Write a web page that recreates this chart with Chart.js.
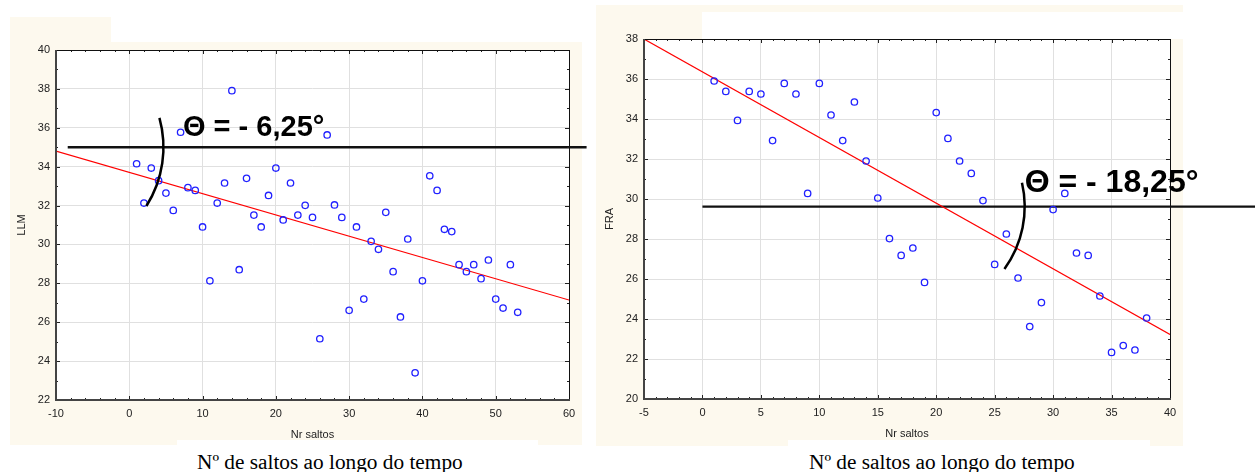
<!DOCTYPE html>
<html>
<head>
<meta charset="utf-8">
<script src="https://cdn.jsdelivr.net/npm/chart.js@4.4.1/dist/chart.umd.min.js"></script>
<style>
  body { margin: 0; background: #fff; }
  #page { position: relative; width: 1255px; height: 472px; overflow: hidden; background: #fff; }
  .cream { position: absolute; background: #fdf9ee; }
  .blank { position: absolute; background: #fff; }
  .caption { position: absolute; top: 451px; font-family: "Liberation Serif", "Times New Roman", serif;
             font-size: 21.3px; line-height: 22px; color: #000; white-space: nowrap; }
  canvas { position: absolute; top: 0; }
</style>
</head>
<body>
<div id="page">
  <!-- fundos creme das duas figuras -->
  <div class="cream" style="left:10px;top:17px;width:101px;height:30px"></div>
  <div class="cream" style="left:10px;top:42px;width:572px;height:403px"></div>
  <div class="cream" style="left:596px;top:5px;width:587px;height:441px"></div>
  <div class="blank" style="left:702px;top:12px;width:481px;height:27px"></div>
  <div class="blank" style="left:177px;top:440px;width:361px;height:32px"></div>
  <div class="blank" style="left:788px;top:440px;width:362px;height:32px"></div>
  <div class="caption" style="left:197px">Nº de saltos ao longo do tempo</div>
  <div class="caption" style="left:809px">Nº de saltos ao longo do tempo</div>
  <canvas id="llm-chart" width="600" height="472" style="left:0"></canvas>
  <canvas id="fra-chart" width="659" height="472" style="left:596px"></canvas>
</div>
<script>
// ---- dados: LLM ----
const llmSaltos = [1, 2, 3, 4, 5, 6, 7, 8, 9, 10, 11, 12, 13, 14, 15, 16, 17, 18, 19, 20,
  21, 22, 23, 24, 25, 26, 27, 28, 29, 30, 31, 32, 33, 34, 35, 36, 37, 38, 39, 40,
  41, 42, 43, 44, 45, 46, 47, 48, 49, 50, 51, 52, 53];
const llmValues = [34.15, 32.13, 33.93, 33.28, 32.64, 31.75, 35.77, 32.92, 32.78, 30.9,
  28.13, 32.13, 33.16, 37.91, 28.7, 33.4, 31.51, 30.9, 32.52, 33.93,
  31.26, 33.16, 31.51, 32.01, 31.39, 25.15, 35.63, 32.03, 31.39, 26.61,
  30.9, 27.19, 30.16, 29.75, 31.65, 28.6, 26.27, 30.28, 23.4, 28.13,
  33.53, 32.78, 30.78, 30.66, 28.96, 28.6, 28.96, 28.24, 29.2, 27.19,
  26.73, 28.96, 26.51];
const llmFitX = [-10, 60];
const llmFitY = [34.8, 27.14];
const llmRefX = [-8.4, 62.4];
const llmRefY = 35.0;

// ---- dados: FRA ----
const fraSaltos = [1, 2, 3, 4, 5, 6, 7, 8, 9, 10, 11, 12, 13, 14, 15, 16, 17, 18, 19, 20,
  21, 22, 23, 24, 25, 26, 27, 28, 29, 30, 31, 32, 33, 34, 35, 36, 37, 38];
const fraValues = [35.9, 35.38, 33.93, 35.38, 35.25, 32.92, 35.78, 35.25, 30.28, 35.78,
  34.2, 32.92, 34.85, 31.9, 30.05, 28.02, 27.18, 27.55, 25.83, 34.32,
  33.03, 31.9, 31.28, 29.92, 26.73, 28.25, 26.05, 23.62, 24.82, 29.47,
  30.28, 27.3, 27.18, 25.15, 22.33, 22.67, 22.45, 24.05];
const fraFitX = [-5, 40];
const fraFitY = [38, 23.23];
const fraRefX = [0, 47.4];
const fraRefY = 29.62;

// eixos
const llmXTicks = { min: -10, max: 60, step: 10, minor: 2 };
const llmYTicks = { min: 22, max: 40, step: 2, minor: 1 };
const fraXTicks = { min: -5, max: 40, step: 5, minor: 1 };
const fraYTicks = { min: 20, max: 38, step: 2, minor: 1 };

const toPoints = (xs, ys) => xs.map((x, i) => ({ x, y: ys[i] }));

// Plugin para imitar o visual do Statistica (moldura, ticks internos, títulos, ângulo)
const statisticaLook = {
  id: 'statisticaLook',
  beforeDraw(chart) {
    const { ctx, chartArea: a } = chart;
    ctx.save();
    ctx.fillStyle = '#fff';
    ctx.fillRect(a.left, a.top, a.width, a.height);
    ctx.restore();
  },
  afterDraw(chart, args, o) {
    const { ctx, chartArea: a, scales: { x, y } } = chart;
    ctx.save();
    const seg = (x1, y1, x2, y2) => { ctx.beginPath(); ctx.moveTo(x1, y1); ctx.lineTo(x2, y2); ctx.stroke(); };

    // ticks internos (maiores e menores)
    ctx.strokeStyle = '#222';
    ctx.lineWidth = 1;
    for (let v = o.xt.min; v <= o.xt.max + 1e-9; v += o.xt.minor) {
      const px = Math.round(x.getPixelForValue(v)) + 0.5;
      const len = Math.abs(v / o.xt.step - Math.round(v / o.xt.step)) < 1e-6 ? 4 : 2;
      seg(px, a.bottom, px, a.bottom - len);
      seg(px, a.top, px, a.top + len);
    }
    for (let v = o.yt.min; v <= o.yt.max + 1e-9; v += o.yt.minor) {
      const py = Math.round(y.getPixelForValue(v)) + 0.5;
      const len = Math.abs(v / o.yt.step - Math.round(v / o.yt.step)) < 1e-6 ? 4 : 2;
      seg(a.left, py, a.left + len, py);
      seg(a.right, py, a.right - len, py);
    }

    // moldura
    ctx.strokeStyle = '#111';
    seg(a.left, a.top + 0.5, a.right, a.top + 0.5);
    seg(a.right + 0.5, a.top, a.right + 0.5, a.bottom);
    ctx.strokeStyle = '#444';
    ctx.lineWidth = 2;
    seg(a.left, a.top, a.left, a.bottom + 1);
    seg(a.left - 1, a.bottom, a.right + 1, a.bottom);

    // títulos dos eixos
    ctx.fillStyle = '#222';
    ctx.font = '11px "Liberation Sans", Arial, sans-serif';
    ctx.textAlign = 'center';
    ctx.textBaseline = 'middle';
    ctx.fillText(o.xTitle, (a.left + a.right) / 2, a.bottom + 35);
    ctx.save();
    ctx.translate(a.left - 34, (a.top + a.bottom) / 2);
    ctx.rotate(-Math.PI / 2);
    ctx.fillText(o.yTitle, 0, 0);
    ctx.restore();

    // arco do ângulo
    ctx.strokeStyle = '#000';
    ctx.lineWidth = 2.5;
    ctx.beginPath();
    ctx.arc(x.getPixelForValue(o.arc.cx), y.getPixelForValue(o.arc.cy), o.arc.r,
      o.arc.from * Math.PI / 180, o.arc.to * Math.PI / 180);
    ctx.stroke();

    // texto do ângulo
    ctx.fillStyle = '#000';
    ctx.font = 'bold ' + o.label.size + 'px "Liberation Sans", Arial, sans-serif';
    ctx.textAlign = 'left';
    ctx.textBaseline = 'alphabetic';
    ctx.fillText(o.label.text, x.getPixelForValue(o.label.x), y.getPixelForValue(o.label.y));
    ctx.restore();
  }
};

function makeChart(canvasId, cfg) {
  const ctx = document.getElementById(canvasId).getContext('2d');
  return new Chart(ctx, {
    type: 'scatter',
    data: {
      datasets: [
        {
          data: toPoints(cfg.xs, cfg.ys),
          pointStyle: 'circle',
          pointRadius: 3.2,
          borderWidth: 1.3,
          borderColor: '#2020ff',
          backgroundColor: 'rgba(0,0,0,0)'
        },
        {
          data: toPoints(cfg.fitX, cfg.fitY),
          showLine: true,
          pointRadius: 0,
          borderColor: '#ff0000',
          borderWidth: 1.1
        },
        {
          data: toPoints(cfg.refX, cfg.refX.map(() => cfg.refY)),
          showLine: true,
          pointRadius: 0,
          borderColor: '#111',
          borderWidth: 2.4,
          clip: false
        }
      ]
    },
    options: {
      responsive: false,
      animation: false,
      events: [],
      layout: { padding: cfg.padding },
      plugins: {
        legend: { display: false },
        tooltip: { enabled: false },
        statisticaLook: {
          xt: cfg.xt, yt: cfg.yt,
          xTitle: cfg.xTitle, yTitle: cfg.yTitle,
          arc: cfg.arc, label: cfg.label
        }
      },
      scales: {
        x: {
          type: 'linear',
          min: cfg.xt.min, max: cfg.xt.max,
          afterFit: s => { s.height = 30; },
          ticks: { stepSize: cfg.xt.step, padding: 7, color: '#222',
                   font: { family: '"Liberation Sans", Arial, sans-serif', size: 11 } },
          grid: { color: '#e0e0e0', drawTicks: false },
          border: { display: false }
        },
        y: {
          type: 'linear',
          min: cfg.yt.min, max: cfg.yt.max,
          afterFit: s => { s.width = 40; },
          ticks: { stepSize: cfg.yt.step, padding: 6, color: '#222',
                   font: { family: '"Liberation Sans", Arial, sans-serif', size: 11 } },
          grid: { color: '#e0e0e0', drawTicks: false },
          border: { display: false }
        }
      }
    },
    plugins: [statisticaLook]
  });
}

makeChart('llm-chart', {
  xs: llmSaltos, ys: llmValues,
  fitX: llmFitX, fitY: llmFitY,
  refX: llmRefX, refY: llmRefY,
  xt: llmXTicks, yt: llmYTicks,
  xTitle: 'Nr saltos', yTitle: 'LLM',
  padding: { left: 16, top: 50, right: 31, bottom: 42 },
  arc: { cx: -10.35, cy: 35.0, r: 110, from: -15.5, to: 32.3 },
  label: { text: 'Θ = - 6,25°', size: 29, x: 7.33, y: 35.6 }
});

makeChart('fra-chart', {
  xs: fraSaltos, ys: fraValues,
  fitX: fraFitX, fitY: fraFitY,
  refX: fraRefX, refY: fraRefY,
  xt: fraXTicks, yt: fraYTicks,
  xTitle: 'Nr saltos', yTitle: 'FRA',
  padding: { left: 8, top: 39, right: 85, bottom: 43 },
  arc: { cx: 18.5, cy: 29.62, r: 106, from: -13, to: 36 },
  label: { text: 'Θ = - 18,25°', size: 32, x: 27.57, y: 30.33 }
});
</script>
</body>
</html>
